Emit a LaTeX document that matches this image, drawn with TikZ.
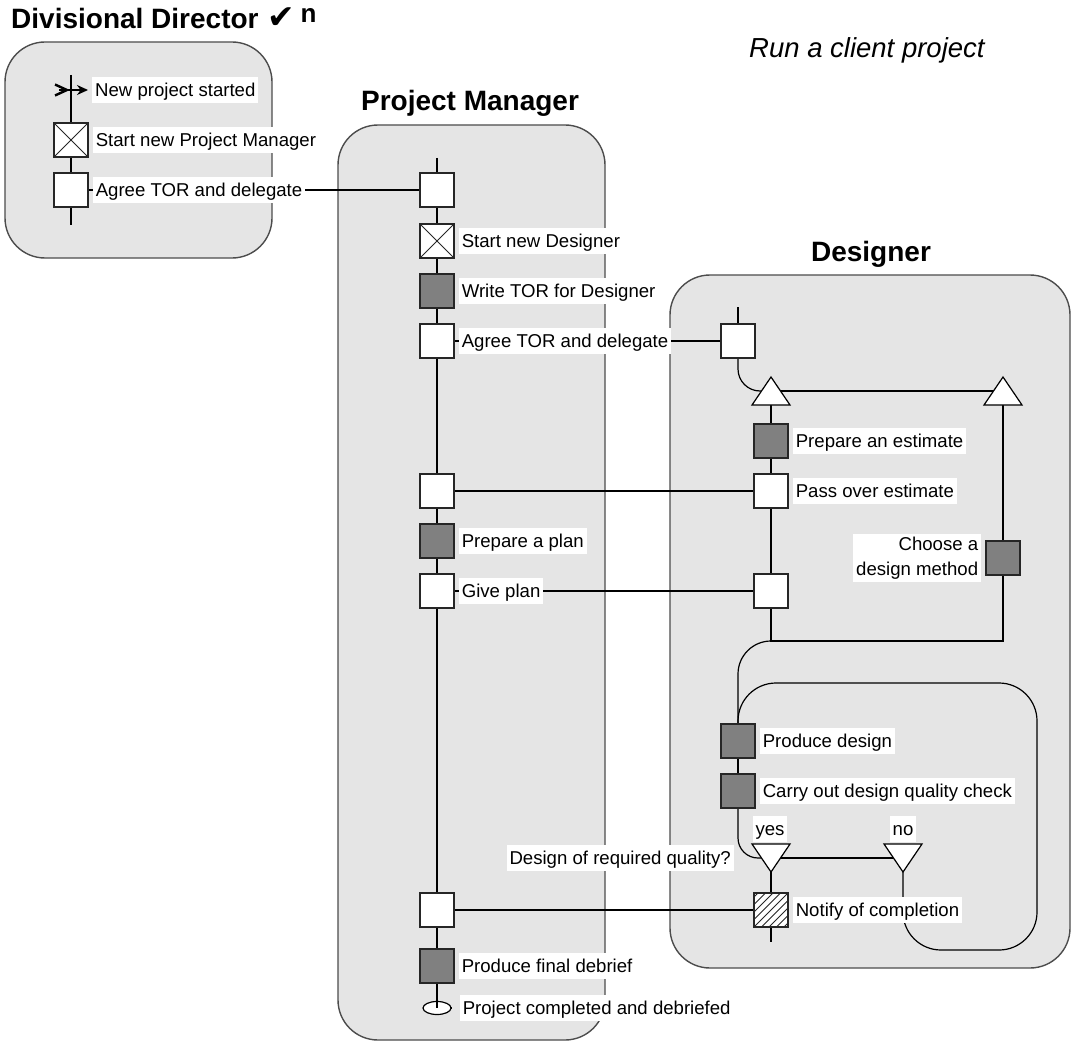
\documentclass[tikz,border=0pt]{standalone}
\usepackage{fontspec}
\setmainfont{Liberation Sans}
\newfontfamily\symfont{DejaVu Sans}
\usetikzlibrary{arrows.meta,shapes.geometric}
\newcommand\lblfont{\fontsize{18.6}{25}\selectfont}
\newcommand\ttlfont{\fontsize{28}{32}\selectfont\bfseries}
\pgfdeclarelayer{lanes}
\pgfdeclarelayer{wires}
\pgfsetlayers{lanes,wires,main}
\begin{document}
\begin{tikzpicture}[x=1pt,y=-1pt,
  lane/.style={draw=black!70, line width=1.4pt, fill=black!10, rounded corners=40pt},
  flow/.style={line width=1.2pt, draw=black},
  act/.style={draw=black!85, line width=1.2pt, minimum size=34pt, inner sep=0pt, fill=white},
  task/.style={act, fill=black!50},
  startact/.style={act, path picture={
      \draw[line width=0.8pt] (path picture bounding box.north west) -- (path picture bounding box.south east)
            (path picture bounding box.north east) -- (path picture bounding box.south west);}},
  notify/.style={act, path picture={
      \foreach \k in {-5,...,5}{
        \draw[line width=0.8pt] ([xshift=\k*7.5pt]path picture bounding box.south west) -- ++(42pt,42pt);}}},
  lbl/.style={fill=white, inner xsep=3pt, inner ysep=3.5pt, text height=16pt, text depth=2.5pt,
              font=\lblfont, anchor=west},
  lblm/.style={fill=white, inner sep=3pt, font=\lblfont, align=right, anchor=east},
  triup/.pic={\draw[line width=1.2pt, fill=white] (-19,14) -- (0,-14) -- (19,14) -- cycle;},
  tridown/.pic={\draw[line width=1.2pt, fill=white] (-19,-14) -- (0,14) -- (19,-14) -- cycle;},
]
\useasboundingbox (0,0) rectangle (1075,1043);

% ---------- headings ----------
\node[font=\ttlfont, anchor=base west, inner sep=0pt] (ddtitle) at (11,29) {Divisional Director};
\node[anchor=base west, inner sep=0pt] (ddmark) at ([xshift=8pt]ddtitle.base east)
  {{\fontsize{33}{33}\selectfont\symfont ✔}\hspace{6pt}\raisebox{6pt}{\fontsize{26}{26}\selectfont\bfseries n}};
\node[font=\fontsize{27.5}{30}\selectfont\itshape, anchor=west, inner sep=0pt] (runtitle) at (749,50) {Run a client project};
\node[font=\ttlfont, inner sep=0pt] (pmtitle) at (470,103) {Project Manager};
\node[font=\ttlfont, inner sep=0pt] (dtitle) at (871,254) {Designer};

% ---------- role lanes ----------
\begin{pgfonlayer}{lanes}
  \draw[lane] (5,42) rectangle (272,258);
  \draw[lane] (338,125) rectangle (605,1040);
  \draw[lane] (670,275) rectangle (1070,968);
\end{pgfonlayer}

% ---------- Divisional Director ----------
\coordinate (ddtop) at (71,75);
\coordinate (ddbot) at (71,225);
\coordinate (ddev) at (71,90);
\node[startact] (dd1) at (71,140) {};
\node[act] (dd2) at (71,190) {};
% start event: fletched arrow
\draw[line width=2.4pt, line join=miter] (55,84.5) -- (67,90) -- (55,95.5);
\draw[line width=1.4pt, -{Stealth[length=11pt,width=10pt]}] ([xshift=-12pt]ddev) -- ([xshift=17pt]ddev);

% ---------- Project Manager ----------
\coordinate (pmtop) at (437,158);
\node[act] (pm1) at (437,190) {};
\node[startact] (pm2) at (437,241) {};
\node[task] (pm3) at (437,291) {};
\node[act] (pm4) at (437,341) {};
\node[act] (pm5) at (437,491) {};
\node[task] (pm6) at (437,541) {};
\node[act] (pm7) at (437,591) {};
\node[act] (pm8) at (437,910) {};
\node[task] (pm9) at (437,966) {};
\node[ellipse, draw=black, line width=1.2pt, fill=white, minimum width=28pt, minimum height=13pt, inner sep=0pt] (pmend) at (437,1008) {};
\draw[line width=1.2pt] (pmend.north) -- (pmend.center);

% ---------- Designer ----------
\coordinate (dtop) at (738,307);
\node[act] (d1) at (738,341) {};
\coordinate (t1) at (771,391);
\coordinate (t2) at (1003,391);
\node[task] (d2) at (771,441) {};
\node[act] (d3) at (771,491) {};
\node[act] (d4) at (771,591) {};
\node[task] (d5) at (1003,558) {};
\coordinate (jn) at (771,641);
\coordinate (jr) at (1003,641);
\node[task] (d6) at (738,741) {};
\node[task] (d7) at (738,791) {};
\coordinate (ty) at (771,858);
\coordinate (tn) at (903,858);
\node[notify] (d8) at (771,910) {};
\coordinate (dbot) at (771,942);

% ---------- flow lines ----------
\begin{pgfonlayer}{wires}
  \draw[flow] (ddtop) -- (ddbot);
  \draw[flow] (pmtop) -- (pmend.center);
  \draw[flow] (dtop) -- (d1.north);
  \draw[flow, rounded corners=22pt] (d1.south) |- (t1);
  \draw[flow] (t1) -- (t2);
  \draw[flow] (t1) -- (jn) -- (jr) -- (t2);
  \draw[flow] (jn) arc[start angle=270, end angle=180, radius=33] -- (d6.north);
  \draw[flow] (d6) -- (d7);
  \draw[flow, rounded corners=20pt] (d7.south) |- (ty);
  \draw[flow] (ty) -- (tn);
  \draw[flow] (ty) -- (dbot);
  \draw[flow, rounded corners=38pt] (tn) -- (903,950) -- (1037,950) -- (1037,683) -- (738,683) -- (d6.north);
  % hand-overs between roles
  \draw[flow] (dd2) -- (pm1);
  \draw[flow] (pm4) -- (d1);
  \draw[flow] (pm5) -- (d3);
  \draw[flow] (pm7) -- (d4);
  \draw[flow] (pm8) -- (d8);
  \draw[flow] (pmend) -- ++(9,0);
\end{pgfonlayer}

% decision / merge triangles
\pic at (t1) {triup};
\pic at (t2) {triup};
\pic at (ty) {tridown};
\pic at (tn) {tridown};

% ---------- labels ----------
\node[lbl] (lnew) at ([xshift=21pt]ddev) {New project started};
\node[lbl] (ldd1) at ([xshift=4pt]dd1.east) {Start new Project Manager};
\node[lbl] (ldd2) at ([xshift=4pt]dd2.east) {Agree TOR and delegate};

\node[lbl] (lpm2) at ([xshift=4pt]pm2.east) {Start new Designer};
\node[lbl] (lpm3) at ([xshift=4pt]pm3.east) {Write TOR for Designer};
\node[lbl] (lpm4) at ([xshift=4pt]pm4.east) {Agree TOR and delegate};
\node[lbl] (lpm6) at ([xshift=4pt]pm6.east) {Prepare a plan};
\node[lbl] (lpm7) at ([xshift=4pt]pm7.east) {Give plan};
\node[lbl] (lpm9) at ([xshift=4pt]pm9.east) {Produce final debrief};
\node[lbl] (lpmend) at ([xshift=8pt]pmend.east) {Project completed and debriefed};

\node[lbl] (ld2) at ([xshift=4pt]d2.east) {Prepare an estimate};
\node[lbl] (ld3) at ([xshift=4pt]d3.east) {Pass over estimate};
\node[lblm] (ld5) at ([xshift=-4pt]d5.west) {Choose a\\design method};
\node[lbl] (ld6) at ([xshift=4pt]d6.east) {Produce design};
\node[lbl] (ld7) at ([xshift=4pt]d7.east) {Carry out design quality check};
\node[lbl] (ld8) at ([xshift=4pt]d8.east) {Notify of completion};
\node[lbl, anchor=center] (lyes) at (770,829) {yes};
\node[lbl, anchor=center] (lno) at (903,829) {no};
\node[lbl, anchor=east] (lq) at (734,858) {Design of required quality?};
\end{tikzpicture}
\end{document}
